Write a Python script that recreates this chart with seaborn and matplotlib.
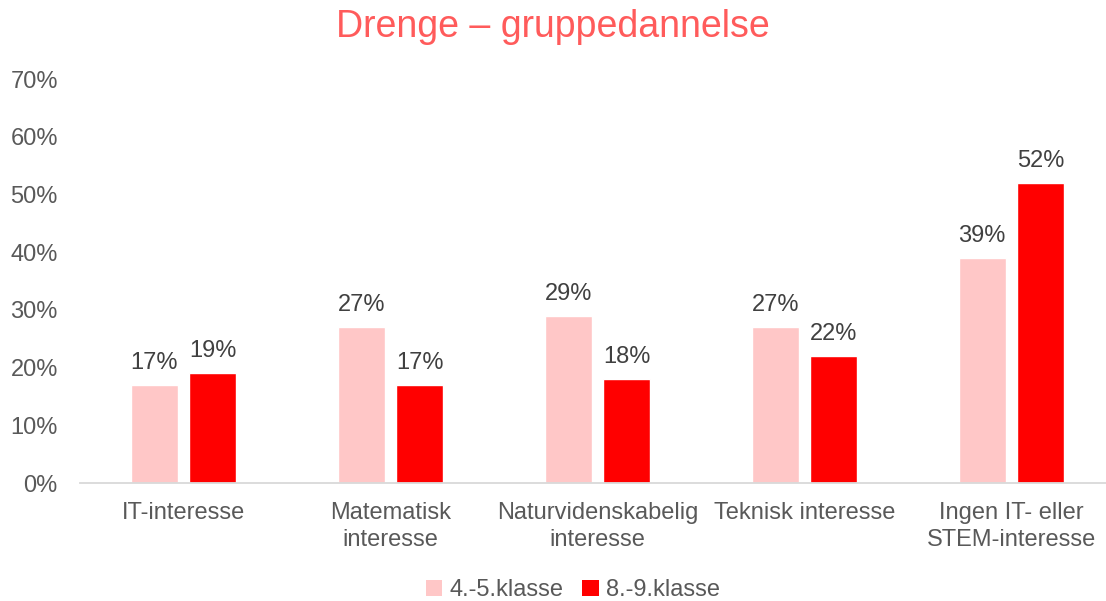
import matplotlib
matplotlib.use("Agg")
import matplotlib.pyplot as plt
import seaborn as sns
import pandas as pd
from matplotlib.patches import Patch

categories = ["IT-interesse", "Matematisk\ninteresse", "Naturvidenskabelig\ninteresse",
              "Teknisk interesse", "Ingen IT- eller\nSTEM-interesse"]
series_names = ["4.-5.klasse", "8.-9.klasse"]
values_45 = [0.17, 0.27, 0.29, 0.27, 0.39]
values_89 = [0.19, 0.17, 0.18, 0.22, 0.52]
yticks = [0, 0.1, 0.2, 0.3, 0.4, 0.5, 0.6, 0.7]
colors = ["#FFC7C7", "#FF0000"]

df = pd.DataFrame({
    "cat": categories * 2,
    "grp": [series_names[0]] * 5 + [series_names[1]] * 5,
    "val": values_45 + values_89,
})

sns.set_theme(style="white")
plt.rcParams["font.family"] = ["Liberation Sans", "DejaVu Sans"]
txt = "#595959"
fs = 17

fig = plt.figure(figsize=(11.06, 6.01), dpi=100)
ax = fig.add_axes([80/1106, (601-483)/601, 1035/1106, (483-79)/601])
sns.barplot(data=df, x="cat", y="val", hue="grp", palette=colors, width=0.565, gap=0.2,
            ax=ax, legend=False, saturation=1, errorbar=None)
ax.set_ylim(0, 0.7)
ax.set_xlim(-0.5, 4.5)
ax.set_yticks(yticks)
ax.set_yticklabels([f"{int(round(t*100))}%" for t in yticks])
ax.set_xlabel("")
ax.set_ylabel("")
for s in ["top", "right", "left"]:
    ax.spines[s].set_visible(False)
ax.spines["bottom"].set_color("#D9D9D9")
ax.spines["bottom"].set_linewidth(1.3)
ax.tick_params(axis="y", length=0, pad=16, labelsize=fs, labelcolor=txt)
ax.tick_params(axis="x", length=0, pad=14, labelsize=fs, labelcolor=txt)
for lab in ax.get_xticklabels():
    lab.set_linespacing(1.25)
ax.grid(False)

for cont in ax.containers:
    ax.bar_label(cont, labels=[f"{int(round(v*100))}%" for v in cont.datavalues],
                 padding=8, fontsize=fs, color="#404040")

fig.text(0.5, 0.955, "Drenge – gruppedannelse", ha="center", va="center",
         fontsize=27, color="#FF5B5B")

handles = [Patch(facecolor=c, edgecolor="none") for c in colors]
fig.legend(handles, series_names, loc="center", bbox_to_anchor=(0.518, 0.018),
           ncol=2, frameon=False, fontsize=fs, labelcolor=txt,
           handlelength=0.7, handleheight=0.7, handletextpad=0.3, columnspacing=0.8)

fig.savefig("out.png", dpi=100)
